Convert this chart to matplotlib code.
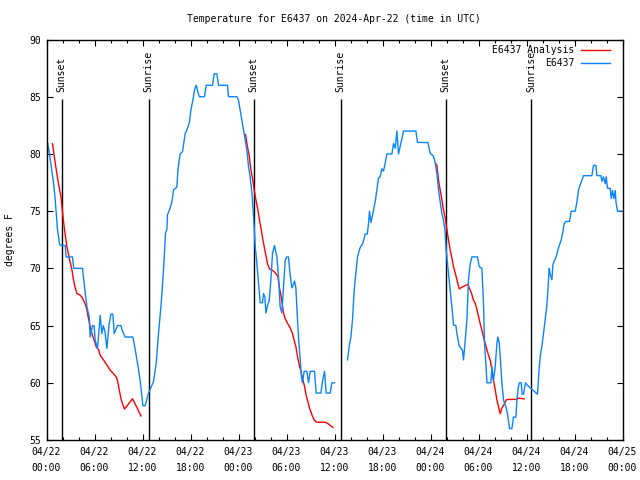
import numpy as np
import matplotlib
matplotlib.use("Agg")
import matplotlib.pyplot as plt
from matplotlib.ticker import MultipleLocator

# ---------------- data (hours since 2024-04-22 00:00 UTC) ----------------
obs_hours = [0.12, 0.37, 0.875, 1.09, 1.37, 1.62, 1.71, 2.34, 2.45, 2.55, 3.25, 3.4, 3.5, 4.5,
             4.75, 5.05, 5.34, 5.46, 5.75, 5.95, 6.09, 6.38, 6.71, 6.92, 7.1, 7.3, 7.55, 7.8,
             8.05, 8.3, 8.46, 8.88, 9.3, 9.5, 9.84, 10.8, 11.09, 11.38, 11.71, 12.05, 12.34,
             12.75, 13.38, 13.71, 14.0, 14.3, 14.55, 14.71, 14.88, 15.05, 15.125, 15.375,
             15.675, 15.875, 16.3, 16.425, 16.71, 17.0, 17.125, 17.34, 17.55, 17.875, 18.05,
             18.3, 18.5, 18.71, 18.9, 19.09, 19.75, 19.96, 20.75, 20.96, 21.3, 21.5, 22.625,
             22.75, 23.8, 24.0, 24.2, 24.4, 24.625, 24.84, 25.05, 25.25, 25.46, 25.675, 25.8,
             25.96, 26.09, 26.3, 26.5, 26.71, 27.0, 27.125, 27.3, 27.425, 27.65, 27.84, 28.05,
             28.25, 28.5, 28.8, 29.0, 29.2, 29.42, 29.625, 29.84, 30.05, 30.25, 30.46, 30.675,
             30.875, 31.0, 31.175, 31.3, 31.5, 31.71, 31.875, 32.0, 32.2, 32.55, 32.75, 32.96,
             33.5, 33.71, 34.3, 34.5, 34.75, 34.96, 35.46, 35.675, 36.0,
             36.8,
             37.625, 37.84, 38.05, 38.25, 38.46, 38.675, 38.875, 39.2, 39.55, 39.84, 40.1,
             40.25, 40.375, 40.55, 40.8, 40.96, 41.125, 41.3, 41.5, 41.7, 41.92, 42.125, 42.34,
             42.55, 43.175, 43.375, 43.59, 43.8, 44.0, 44.2, 44.42, 44.625, 46.175, 46.375,
             47.675, 47.96, 48.375, 48.59, 48.8, 49.0, 49.21, 49.42, 49.625, 49.8, 49.96,
             50.125, 50.375, 50.59, 50.75, 50.875, 51.175, 51.3, 51.59, 51.84, 52.0, 52.125,
             52.34, 52.55, 52.75, 52.96, 53.175, 53.875, 54.09, 54.42, 54.625, 54.75, 54.92,
             55.05, 55.55, 55.675, 55.875, 56.09, 56.3, 56.425, 56.59, 56.71, 56.925, 57.125,
             57.425, 57.625, 57.875, 58.175, 58.375, 58.675, 58.8, 59.0, 59.125, 59.34, 59.46,
             59.625, 59.875, 60.09, 61.375, 61.59, 61.75, 61.925, 62.125, 62.34, 62.55,
             62.675, 62.84, 62.96, 63.175, 63.3, 63.5, 63.71, 63.925, 64.125, 64.34, 64.55,
             64.71, 64.925, 65.375, 65.59, 66.09, 66.3, 66.5, 66.71, 66.925, 67.125, 68.175,
             68.375, 68.675, 68.8, 69.3, 69.425, 69.625, 69.84, 69.96, 70.125, 70.46, 70.59,
             70.75, 70.925, 71.09, 71.2, 71.375, 71.84]
obs_temps = [81.0, 80.0, 77.5, 76.0, 73.4, 72.2, 72.0, 72.0, 71.0, 71.0, 71.0, 70.0, 70.0, 70.0,
             68.4, 66.65, 65.8, 64.0, 65.0, 65.0, 63.7, 63.0, 65.9, 64.3, 65.0, 64.5, 63.0, 65.0,
             66.0, 66.0, 64.3, 65.0, 65.0, 64.5, 64.0, 64.0, 62.9, 61.7, 60.2, 58.0, 58.0,
             59.1, 60.1, 61.7, 64.3, 66.65, 69.0, 70.9, 73.1, 73.4, 74.7, 75.1,
             75.8, 76.85, 77.1, 78.6, 80.0, 80.2, 80.8, 81.8, 82.1, 82.8, 83.85,
             84.7, 85.6, 86.0, 85.5, 85.0, 85.0, 86.0, 86.0, 87.0, 87.0, 86.0, 86.0,
             85.0, 85.0, 84.7, 83.85, 83.0, 82.1, 81.2, 80.35, 78.9, 78.0, 76.6, 75.4,
             73.6, 71.9, 70.4, 68.7, 67.0, 67.0, 67.8, 67.5, 66.1, 66.8, 67.2, 69.0,
             71.3, 72.0, 71.0, 69.3, 66.65, 66.1, 68.4, 70.7, 71.0, 71.0, 69.4, 68.3,
             68.6, 68.9, 68.3, 66.5, 64.0, 62.0, 60.5, 60.0, 61.0, 61.0, 60.0, 61.0,
             61.0, 59.1, 59.1, 60.1, 61.0, 59.1, 59.1, 60.0, 60.0,
             np.nan,
             62.0, 63.2, 64.0, 65.5, 68.1, 69.6, 71.0, 71.8, 72.2, 73.0, 73.0,
             73.9, 75.0, 74.0, 74.8, 75.4, 76.0, 76.85, 77.9, 78.0, 78.7, 78.5, 79.2,
             80.0, 80.0, 80.9, 80.5, 82.0, 80.0, 80.6, 81.3, 82.0, 82.0, 81.0,
             81.0, 80.06, 79.8, 79.2, 78.3, 76.85, 75.8, 74.8, 74.2, 73.4, 71.6,
             70.4, 68.7, 67.2, 66.1, 65.05, 65.0, 64.3, 63.2, 63.0, 62.8, 62.0,
             63.7, 65.5, 69.0, 70.4, 71.0, 71.0, 70.15, 70.0, 67.0, 63.45, 61.7,
             60.0, 60.0, 61.4, 60.2, 61.4, 63.45, 64.0, 63.5, 62.3, 60.0, 58.5,
             57.9, 57.3, 56.0, 56.0, 57.0, 57.0, 58.5, 59.7, 60.0, 60.0, 59.0,
             59.0, 60.0, 59.8, 59.0, 61.3, 62.5, 63.2, 64.3, 65.6, 66.8,
             68.1, 70.0, 69.5, 69.0, 70.3, 70.7, 71.0, 71.6, 72.05, 72.5, 73.2,
             73.9, 74.1, 74.1, 75.0, 75.0, 75.8, 76.85, 77.3, 77.7, 78.1, 78.1,
             79.0, 79.0, 78.1, 78.1, 77.6, 78.0, 77.4, 78.0, 77.0, 77.0, 76.1,
             76.8, 76.1, 76.8, 75.7, 75.0, 75.0]

ana1_hours = [0.75, 1.09, 1.5, 1.8, 2.05, 2.25, 2.55, 2.84, 3.17, 3.375, 3.59, 3.8, 4.125, 4.42,
              4.84, 5.05, 5.25, 5.46, 5.675, 5.96, 6.21, 6.5, 6.71, 7.125, 7.55, 7.96, 8.375,
              8.71, 8.875, 9.09, 9.34, 9.75, 10.25, 10.75, 11.3, 11.8]
ana1_temps = [80.9, 79.2, 77.4, 76.3, 74.6, 73.4, 71.9, 70.9, 69.9, 69.0, 68.3, 67.8, 67.7, 67.5,
              66.9, 66.4, 65.6, 64.9, 64.3, 63.7, 63.15, 62.9, 62.4, 62.0, 61.55, 61.1, 60.8,
              60.5, 60.2, 59.4, 58.5, 57.7, 58.15, 58.6, 57.85, 57.1]
ana2_hours = [24.875, 25.05, 25.34, 25.55, 25.8, 25.96, 26.175, 26.425, 26.625, 26.84, 27.05,
              27.25, 27.46, 27.625, 27.875, 28.3, 28.6, 28.925, 29.09, 29.34, 29.625, 29.84,
              30.125, 30.46, 30.75, 30.96, 31.175, 31.375, 31.59, 31.8, 32.0, 32.25, 32.46,
              32.675, 32.875, 33.175, 33.46, 33.8, 34.84, 35.25, 35.8]
ana2_temps = [81.7, 80.9, 79.8, 78.6, 77.7, 76.85, 76.0, 75.1, 74.2, 73.4, 72.5,
              71.75, 71.0, 70.4, 69.95, 69.8, 69.6, 69.3, 68.4, 67.5, 66.1, 65.6,
              65.2, 64.8, 64.3, 63.7, 63.15, 62.3, 61.55, 61.0, 60.4, 59.7, 58.9,
              58.35, 57.8, 57.2, 56.75, 56.55, 56.55, 56.4, 56.1]
ana3_hours = [48.625, 48.8, 49.0, 49.21, 49.42, 49.625, 49.84, 50.05, 50.25, 50.46, 50.675,
              50.875, 51.09, 51.3, 51.59, 51.92, 52.34, 52.675, 52.96, 53.175, 53.375, 53.59,
              53.8, 54.0, 54.2, 54.42, 54.625, 54.84, 55.05, 55.25, 55.46, 55.675, 55.875,
              56.09, 56.3, 56.5, 56.71, 56.925, 57.2, 57.46, 57.675, 58.8, 59.0, 59.7]
ana3_temps = [79.2, 79.0, 77.7, 76.85, 76.0, 75.1, 74.4, 73.4, 72.5, 71.6, 70.9,
              70.15, 69.6, 69.0, 68.2, 68.35, 68.5, 68.6, 68.1, 67.7, 67.2, 66.95,
              66.4, 65.8, 65.2, 64.6, 64.0, 63.45, 62.9, 62.4, 62.0, 61.1, 60.2,
              59.4, 58.5, 57.9, 57.3, 57.8, 58.1, 58.5, 58.55, 58.55, 58.65, 58.6]

sun_hours = [1.875, 12.75, 25.875, 36.75, 49.875, 60.6]
sun_labels = ["Sunset", "Sunrise", "Sunset", "Sunrise", "Sunset", "Sunrise"]

tick_hours = [0, 6, 12, 18, 24, 30, 36, 42, 48, 54, 60, 66, 72]
tick_labels = ["04/22\n00:00", "04/22\n06:00", "04/22\n12:00", "04/22\n18:00",
               "04/23\n00:00", "04/23\n06:00", "04/23\n12:00", "04/23\n18:00",
               "04/24\n00:00", "04/24\n06:00", "04/24\n12:00", "04/24\n18:00",
               "04/25\n00:00"]
y_ticks = [55, 60, 65, 70, 75, 80, 85, 90]

title = "Temperature for E6437 on 2024-Apr-22 (time in UTC)"

# ---------------- plot ----------------
FONT = "DejaVu Sans Mono"
FS = 7
plt.rcParams['font.family'] = [FONT]
plt.rcParams['font.size'] = FS

RED = "#ff0000"
BLUE = "#0a84ff"

fig = plt.figure(figsize=(6.4, 4.8), dpi=100)
ax = fig.add_axes([46.5 / 640, 1 - 440 / 480, 576 / 640, 400.5 / 480])

ax.plot(ana1_hours, ana1_temps, color=RED, lw=1.0)
ax.plot(ana2_hours, ana2_temps, color=RED, lw=1.0)
ax.plot(ana3_hours, ana3_temps, color=RED, lw=1.0)
ax.plot(obs_hours, obs_temps, color=BLUE, lw=1.0)

for h, lab in zip(sun_hours, sun_labels):
    ax.vlines(h, 55, 84.8, color="black", lw=1.0, zorder=1)
    ax.text(h, 85.4, lab, rotation=90, ha="center", va="bottom", fontsize=FS)

ax.set_xlim(0, 72)
ax.set_ylim(55, 90)
ax.set_xticks(tick_hours)
ax.set_xticklabels(tick_labels, linespacing=1.75)
ax.xaxis.set_minor_locator(MultipleLocator(2))
ax.set_yticks(y_ticks)
ax.tick_params(axis="both", which="both", direction="in", top=True, right=True,
               labelsize=FS, width=0.8)
ax.tick_params(axis="both", which="major", length=4.5)
ax.tick_params(axis="both", which="minor", length=2.5)
ax.tick_params(axis="x", pad=5)
ax.tick_params(axis="y", pad=4)
for s in ax.spines.values():
    s.set_linewidth(1.0)

fig.text(334 / 640, 1 - 19 / 480, title, ha="center", va="center", fontsize=FS)
fig.text(10 / 640, 1 - 240 / 480, "degrees F", rotation=90, ha="center", va="center", fontsize=FS)

# legend (gnuplot style)
ax.text(0.916, 0.9738, "E6437 Analysis", transform=ax.transAxes, ha="right", va="center", fontsize=FS)
ax.text(0.916, 0.942, "E6437", transform=ax.transAxes, ha="right", va="center", fontsize=FS)
ax.plot([0.928, 0.9787], [0.9738, 0.9738], transform=ax.transAxes, color=RED, lw=1.0)
ax.plot([0.928, 0.9787], [0.942, 0.942], transform=ax.transAxes, color=BLUE, lw=1.0)

fig.savefig("out.png", dpi=100)
